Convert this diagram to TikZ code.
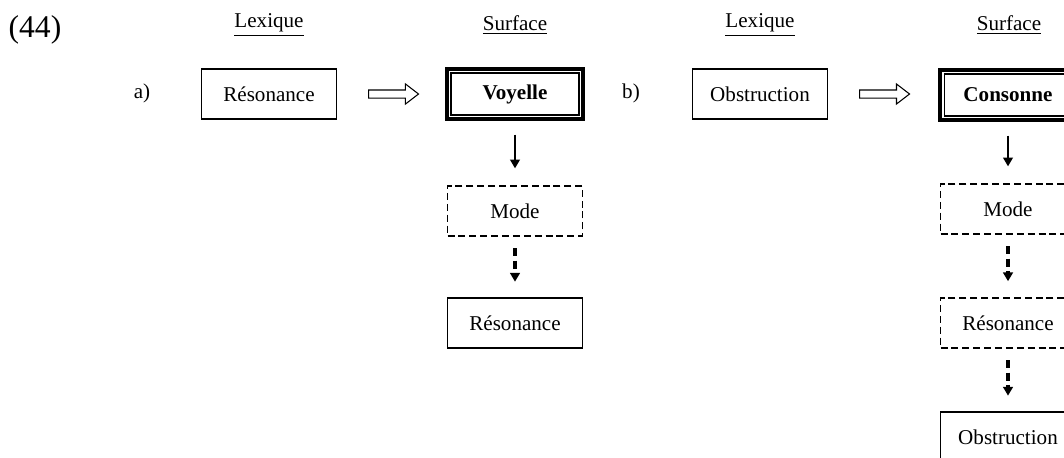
\documentclass[tikz,border=0pt]{standalone}
\usepackage{fontspec}
\setmainfont{Liberation Serif}
\usepackage{tikz}
\usetikzlibrary{arrows.meta,positioning,fit,shapes.arrows}

\begin{document}
\begin{tikzpicture}[x=0.02cm,y=-0.02cm,
  every node/.style={font=\fontsize{12}{14}\selectfont},
  lexbox/.style={draw,line width=0.6pt,minimum width=2.7cm,minimum height=1cm,inner sep=0pt},
  featbox/.style={lexbox,line width=1.1pt,dash pattern=on 4pt off 2.2pt},
  surfbox/.style={draw,line width=0.6pt,minimum width=2.56cm,minimum height=0.84cm,
                  outer sep=0pt,font=\fontsize{12}{14}\selectfont\bfseries},
  frame/.style={draw,line width=1.8pt,inner sep=0.08cm},
  hollow/.style={draw,single arrow,line width=0.6pt,minimum height=1cm,
                 inner sep=0.07cm,single arrow head extend=0.12cm,single arrow tip angle=75},
  down/.style={-{Triangle[width=5.5pt,length=5pt]},line width=1.1pt,
               shorten <=8pt,shorten >=9.5pt},
  dashdown/.style={-{Triangle[width=5.5pt,length=5pt]},line width=1.8pt,
                   dash pattern=on 4.5pt off 2.5pt,shorten <=6.5pt,shorten >=9pt}
]
\useasboundingbox (0,0) rectangle (1064,457);
\clip (0,0) rectangle (1064,457);

% headings
\node[font=\fontsize{18}{20}\selectfont] (num) at (35,30) {(44)};
\node (lexA) at (269,25) {\underline{Lexique}};
\node (surfA) at (515,25) {\underline{Surface}};
\node (lexB) at (760,25) {\underline{Lexique}};
\node (surfB) at (1009,25) {\underline{Surface}};

% a) voyelle
\node (labA) at (142,93) {a)};
\node[lexbox] (resA) at (269,94) {Résonance};
\node[hollow,right=0.62cm of resA] (arrA) {};
\node[surfbox] (voy) at (515,94) {Voyelle};
\node[frame,fit=(voy)] (voyF) {};
\node[featbox] (modeA) at (515,211) {Mode};
\node[lexbox] (resA2) at (515,323) {Résonance};
\draw[down] (voyF.south) -- (modeA.north);
\draw[dashdown] (modeA.south) -- (resA2.north);

% b) consonne
\node (labB) at (631,93) {b)};
\node[lexbox] (obsB) at (760,94) {Obstruction};
\node[hollow,right=0.62cm of obsB] (arrB) {};
\node[surfbox] (cons) at (1008,95) {Consonne};
\node[frame,fit=(cons)] (consF) {};
\node[featbox] (modeB) at (1008,209) {Mode};
\node[featbox] (resB) at (1008,323) {Résonance};
\node[lexbox] (obsB2) at (1008,437) {Obstruction};
\draw[down] (consF.south) -- (modeB.north);
\draw[dashdown] (modeB.south) -- (resB.north);
\draw[dashdown] (resB.south) -- (obsB2.north);
\end{tikzpicture}
\end{document}
